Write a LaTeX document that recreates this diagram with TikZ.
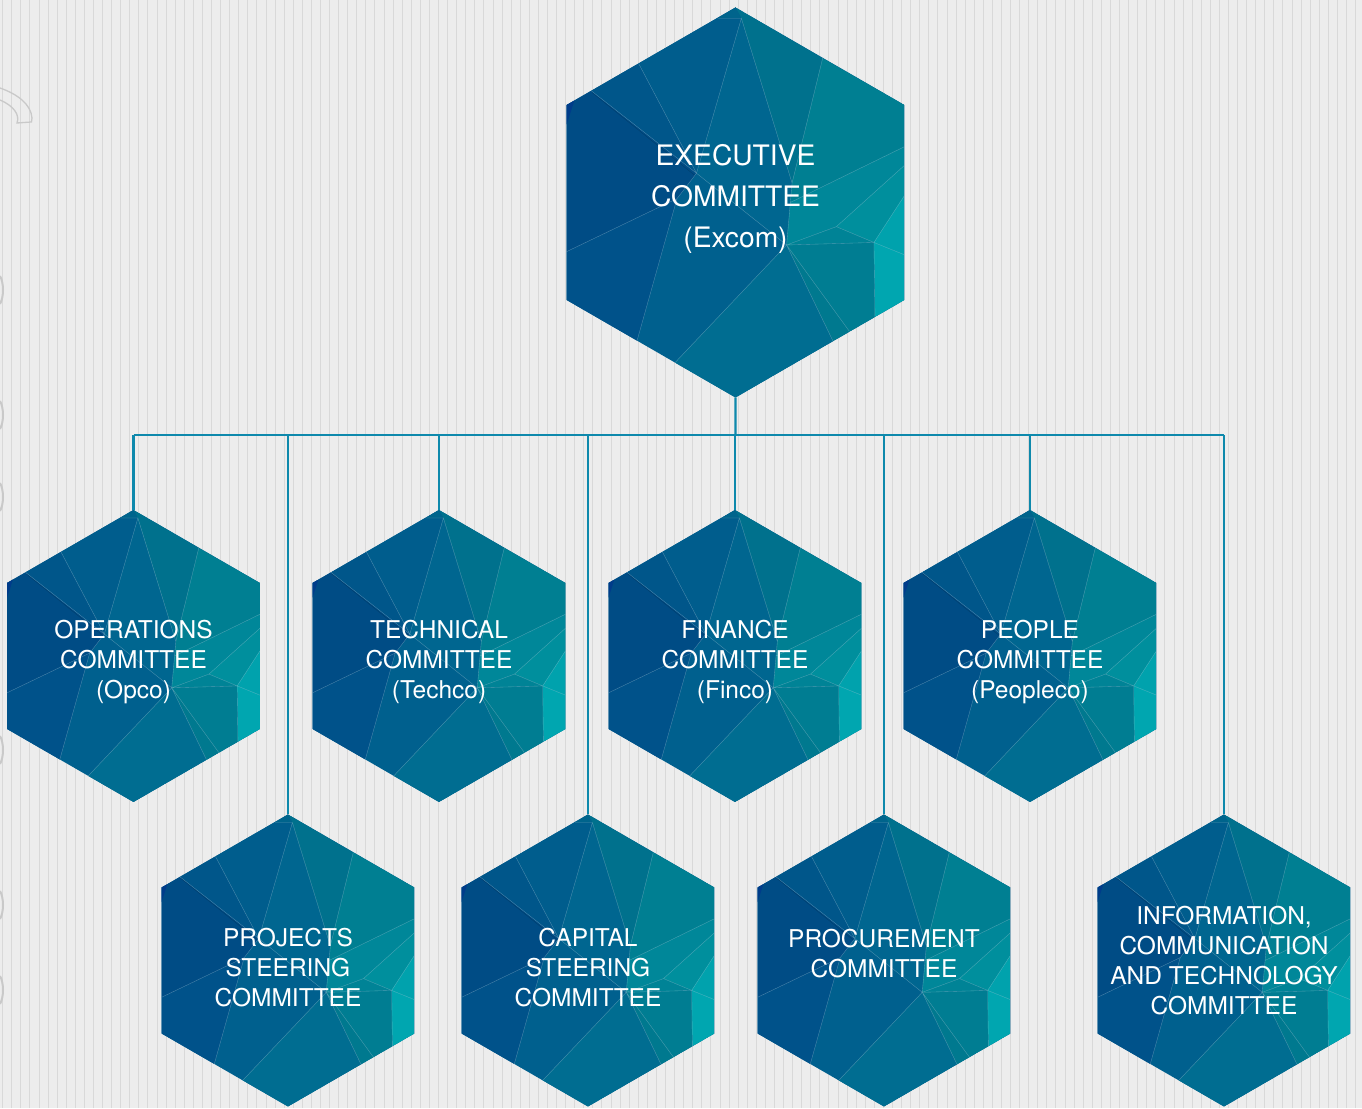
\documentclass[tikz,border=0pt]{standalone}
\usepackage{fontspec}
\setmainfont{TeX Gyre Heros}
\usetikzlibrary{shapes.geometric,backgrounds}

\definecolor{bggray}{HTML}{EDEDED}
\definecolor{stripegray}{HTML}{D9D9D9}
\definecolor{decogray}{HTML}{C9C9C9}
\definecolor{linkblue}{HTML}{0E89AC}
\definecolor{fc0}{HTML}{003C8A}
\definecolor{fc1}{HTML}{004C85}
\definecolor{fc2}{HTML}{00568A}
\definecolor{fc3}{HTML}{005D8D}
\definecolor{fc4}{HTML}{006690}
\definecolor{fc5}{HTML}{00718D}
\definecolor{fc6}{HTML}{007F92}
\definecolor{fc7}{HTML}{008799}
\definecolor{fc8}{HTML}{008F9D}
\definecolor{fc9}{HTML}{00A2AD}
\definecolor{fc10}{HTML}{00A6B0}
\definecolor{fc11}{HTML}{008396}
\definecolor{fc12}{HTML}{007D92}
\definecolor{fc13}{HTML}{00798F}
\definecolor{fc14}{HTML}{006D91}
\definecolor{fc15}{HTML}{00608E}
\definecolor{fc16}{HTML}{00528A}
\definecolor{fc17}{HTML}{00648C}

% facets of one hexagon, unit circumradius, pointy top
\newcommand\hexfacets{%
  \clip (0,1) -- (0.866,0.5) -- (0.866,-0.5) -- (0,-1) -- (-0.866,-0.5) -- (-0.866,0.5) -- cycle;
  \fill[fc15] (-1,-1) rectangle (1,1);
  \fill[fc1] (-0.866,0.5) -- (-0.74,0.573) -- (-0.2,0.15) -- (-0.3,0.02) -- (-0.866,-0.252) -- cycle;
  \fill[fc2] (-0.74,0.573) -- (-0.497,0.713) -- (-0.2,0.15) -- cycle;
  \fill[fc3] (-0.497,0.713) -- (0,1) -- (0.03,0.945) -- (-0.2,0.15) -- cycle;
  \fill[fc4] (0.03,0.945) -- (0.29,0.1) -- (0.281,0) -- (0.262,-0.218) -- (-0.2,0.15) -- cycle;
  \fill[fc5] (0.03,0.945) -- (0,1) -- (0.447,0.74) -- (0.29,0.1) -- cycle;
  \fill[fc6] (0.447,0.74) -- (0.866,0.5) -- (0.866,0.286) -- (0.281,0) -- (0.29,0.1) -- cycle;
  \fill[fc7] (0.281,0) -- (0.866,0.286) -- (0.866,0.19) -- (0.517,-0.124) -- (0.262,-0.218) -- cycle;
  \fill[fc8] (0.517,-0.124) -- (0.866,0.19) -- (0.866,0.035) -- (0.71,-0.205) -- cycle;
  \fill[fc9] (0.71,-0.205) -- (0.866,0.035) -- (0.866,-0.268) -- cycle;
  \fill[fc10] (0.71,-0.205) -- (0.866,-0.268) -- (0.866,-0.5) -- (0.715,-0.587) -- cycle;
  \fill[fc11] (0.262,-0.218) -- (0.517,-0.124) -- (0.71,-0.205) -- cycle;
  \fill[fc12] (0.262,-0.218) -- (0.71,-0.205) -- (0.715,-0.587) -- (0.585,-0.662) -- cycle;
  \fill[fc13] (0.262,-0.218) -- (0.585,-0.662) -- (0.5,-0.711) -- cycle;
  \fill[fc14] (0.262,-0.218) -- (0.5,-0.711) -- (0,-1) -- (-0.31,-0.821) -- cycle;
  \fill[fc16] (-0.3,0.02) -- (-0.505,-0.709) -- (-0.866,-0.5) -- (-0.866,-0.252) -- cycle;
  \fill[fc17] (-0.09,0.945) -- (0,1) -- (0.03,0.945) -- cycle;
  \fill[fc0] (-0.866,0.5) -- (-0.826,0.523) -- (-0.866,0.4) -- cycle;
  \draw[facetline] (-0.74,0.573) -- (-0.2,0.15) (-0.497,0.713) -- (-0.2,0.15)
    -- (0.03,0.945) -- (0.29,0.1) -- (0.262,-0.218) -- (-0.2,0.15) -- (-0.3,0.02)
    -- (-0.866,-0.252) (-0.3,0.02) -- (-0.505,-0.709) (0.447,0.74) -- (0.29,0.1)
    (0.866,0.286) -- (0.281,0) (0.866,0.19) -- (0.517,-0.124) -- (0.262,-0.218)
    -- (0.71,-0.205) -- (0.517,-0.124) (0.866,0.035) -- (0.71,-0.205) -- (0.866,-0.268)
    (0.71,-0.205) -- (0.715,-0.587) (0.262,-0.218) -- (0.585,-0.662)
    (0.262,-0.218) -- (0.5,-0.711) (0.262,-0.218) -- (-0.31,-0.821)
    (-0.09,0.945) -- (0.03,0.945);
  \draw[facetdark] (-0.735,0.563) -- (-0.21,0.14);
}

\tikzset{
  facethex/.pic={
    \begin{scope}[x=#1pt, y=#1pt]
      \hexfacets
    \end{scope}
  },
  facetline/.style={draw=white, draw opacity=.3, line width=.35pt},
  facetdark/.style={draw=black, draw opacity=.2, line width=.35pt},
  committee/.style={
    regular polygon, regular polygon sides=6, shape border rotate=30,
    minimum size=2*#1, inner sep=-40pt, outer sep=0pt,
    text=white, align=center, font=\fontsize{24.5}{30}\selectfont
  },
  bigtext/.style={font=\fontsize{28.2}{41}\selectfont},
  link/.style={draw=linkblue, line width=2.4pt},
  stripe/.style={draw=stripegray, line width=1pt},
  deco/.style={draw=decogray, line width=1.3pt},
}

\begin{document}
\begin{tikzpicture}[x=1pt,y=1pt]
\useasboundingbox (0,0) rectangle (1362,1108);

\node[committee=195, bigtext] (excom) at (735.5,905.5)
  {EXECUTIVE\\COMMITTEE\\(Excom)\rule[-13pt]{0pt}{1pt}};

\node[committee=146] (opco) at (133.5,452) {\rule{0pt}{30pt}OPERATIONS\\COMMITTEE\\(Opco)};
\node[committee=146] (techco) at (439,452) {\rule{0pt}{30pt}TECHNICAL\\COMMITTEE\\(Techco)};
\node[committee=146] (finco) at (735,452) {\rule{0pt}{30pt}FINANCE\\COMMITTEE\\(Finco)};
\node[committee=146] (peopleco) at (1030,452) {\rule{0pt}{30pt}PEOPLE\\COMMITTEE\\(Peopleco)};

\node[committee=146] (projects) at (288,147.5) {\rule{0pt}{33pt}PROJECTS\\STEERING\\COMMITTEE};
\node[committee=146] (capital) at (588,147.5) {\rule{0pt}{33pt}CAPITAL\\STEERING\\COMMITTEE};
\node[committee=146] (procurement) at (884,147.5) {PROCUREMENT\\COMMITTEE\rule[-14pt]{0pt}{14pt}};
\node[committee=146] (ict) at (1224,147.5) {INFORMATION,\\COMMUNICATION\\AND TECHNOLOGY\\COMMITTEE};

% connectors
\coordinate (bus) at (735.5,673);
\draw[link] (excom.south) -- (bus);
\draw[link] (opco.north |- bus) -- (ict.north |- bus);
\foreach \c in {opco,projects,techco,capital,finco,procurement,peopleco,ict}
  \draw[link] (\c.north) -- (\c.north |- bus);

\begin{scope}[on background layer]
  % striped backdrop
  \fill[bggray] (0,0) rectangle (1362,1108);
  \foreach \i in {0,...,149}
    \draw[stripe] ({2.7+9.08*\i},0) -- ++(0,1108);
  \draw[deco] (0,1020) .. controls (17,1014) and (31,1004) .. (32,990) -- (31.5,986)
    -- (17,985) .. controls (20,993) and (14,1002) .. (0,1008);
  \foreach \y in {818,693,611,358,203,118}
    \draw[deco, line width=2pt] (0,\y-14) .. controls (4,\y-7) and (4,\y+7) .. (0,\y+14);
  % faceted fills
  \foreach \c/\r in {excom/195,opco/146,techco/146,finco/146,peopleco/146,
                     projects/146,capital/146,procurement/146,ict/146}
    \pic at (\c) {facethex=\r};
\end{scope}
\end{tikzpicture}
\end{document}
